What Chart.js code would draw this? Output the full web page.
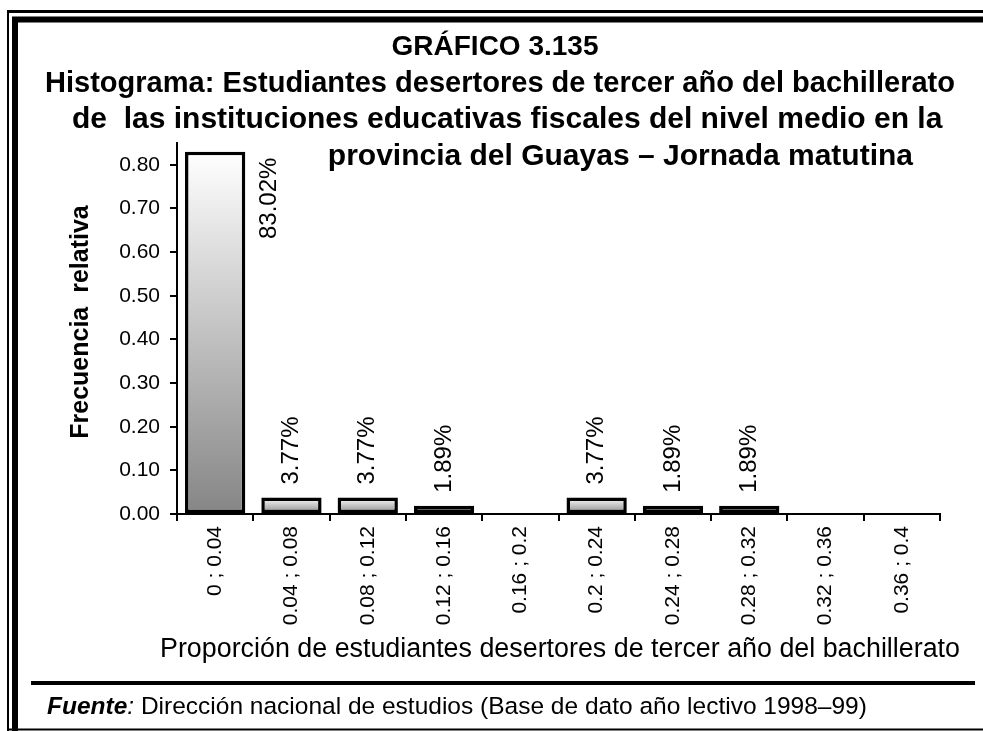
<!DOCTYPE html>
<html>
<head>
<meta charset="utf-8">
<script src="https://cdn.jsdelivr.net/npm/chart.js@4.4.1/dist/chart.umd.min.js"></script>
<style>
  html, body { margin: 0; padding: 0; background: #fff; }
  #wrap { width: 983px; height: 731px; }
</style>
</head>
<body>
<div id="wrap"><canvas id="histo" width="983" height="731"></canvas></div>
<script>
const categories = ['0 ; 0.04', '0.04 ; 0.08', '0.08 ; 0.12', '0.12 ; 0.16', '0.16 ; 0.2',
                    '0.2 ; 0.24', '0.24 ; 0.28', '0.28 ; 0.32', '0.32 ; 0.36', '0.36 ; 0.4'];
const frecuencia = [0.8302, 0.0377, 0.0377, 0.0189, 0, 0.0377, 0.0189, 0.0189, 0, 0];
const etiquetas = ['83.02%', '3.77%', '3.77%', '1.89%', '', '3.77%', '1.89%', '1.89%', '', ''];

const titulo = 'GRÁFICO 3.135';
const subtitulo = [
  'Histograma: Estudiantes desertores de tercer año del bachillerato',
  'de  las instituciones educativas fiscales del nivel medio en la',
  'provincia del Guayas – Jornada matutina'
];
const tituloY = 'Frecuencia  relativa';
const tituloX = 'Proporción de estudiantes desertores de tercer año del bachillerato';
const fuente = 'Dirección nacional de estudios (Base de dato año lectivo 1998–99)';

const FONT = '"Liberation Sans", Arial, sans-serif';

// frame, titles and footer
const decoPlugin = {
  id: 'deco',
  beforeDraw(chart) {
    const c = chart.ctx;
    c.save();
    c.fillStyle = '#fff';
    c.fillRect(0, 0, chart.width, chart.height);
    c.strokeStyle = '#000';
    c.lineWidth = 3;
    c.beginPath(); c.moveTo(7, 11.5); c.lineTo(983, 11.5); c.stroke();
    c.lineWidth = 2;
    c.beginPath(); c.moveTo(8, 10); c.lineTo(8, 731); c.stroke();
    c.lineWidth = 6;
    c.beginPath(); c.moveTo(12, 19.5); c.lineTo(983, 19.5); c.stroke();
    c.beginPath(); c.moveTo(15, 17); c.lineTo(15, 731); c.stroke();
    c.lineWidth = 2;
    c.beginPath(); c.moveTo(7, 729.5); c.lineTo(983, 729.5); c.stroke();
    c.lineWidth = 4;
    c.beginPath(); c.moveTo(31, 683); c.lineTo(975, 683); c.stroke();
    c.restore();
  },
  afterDraw(chart) {
    const c = chart.ctx;
    c.save();
    c.fillStyle = '#000';
    c.textBaseline = 'alphabetic';

    c.font = 'bold 28px ' + FONT;
    c.textAlign = 'center';
    c.fillText(titulo, 495, 55);

    c.font = 'bold 30px ' + FONT;
    c.textAlign = 'left';
    c.fillText(subtitulo[0], 45, 92, 910);
    c.fillText(subtitulo[1], 72, 128, 880);
    c.textAlign = 'right';
    c.fillText(subtitulo[2], 913, 165, 600);

    // y axis title
    c.save();
    c.translate(81, 322);
    c.rotate(-Math.PI / 2);
    c.textAlign = 'center';
    c.textBaseline = 'middle';
    c.font = 'bold 25px ' + FONT;
    c.fillText(tituloY, 0, 0);
    c.restore();

    // x axis title
    c.textAlign = 'center';
    c.font = '27px ' + FONT;
    c.fillText(tituloX, 560, 657, 800);

    // source
    c.textAlign = 'left';
    c.font = 'italic bold 24.5px ' + FONT;
    c.fillText('Fuente', 47, 714);
    let x = 47 + c.measureText('Fuente').width;
    c.font = 'italic 24.5px ' + FONT;
    c.fillText(':', x, 714);
    x += c.measureText(': ').width;
    c.font = '24.5px ' + FONT;
    c.fillText(fuente, x, 714);
    c.restore();
  }
};

// rotated percentage labels over the bars
const labelPlugin = {
  id: 'barLabels',
  afterDatasetsDraw(chart) {
    const c = chart.ctx;
    const meta = chart.getDatasetMeta(0);
    c.save();
    c.font = '24px ' + FONT;
    c.fillStyle = '#000';
    c.textBaseline = 'middle';
    meta.data.forEach((bar, i) => {
      const txt = etiquetas[i];
      if (!txt) return;
      const tw = c.measureText(txt).width;
      let x = bar.x, y = bar.y - 13, align = 'left';
      if (y - tw < chart.chartArea.top) {
        x = bar.x + bar.width / 2 + 24;
        y = bar.y + 6;
        align = 'right';
      }
      c.save();
      c.translate(x, y);
      c.rotate(-Math.PI / 2);
      c.textAlign = align;
      c.fillText(txt, 0, 0);
      c.restore();
    });
    c.restore();
  }
};

function barFill(context) {
  const chart = context.chart;
  const y = chart.scales && chart.scales.y;
  if (!chart.chartArea || !y) return '#bbbbbb';
  const top = y.getPixelForValue(context.raw);
  const base = y.getPixelForValue(0);
  const g = chart.ctx.createLinearGradient(0, top, 0, base + 0.01);
  g.addColorStop(0, '#ffffff');
  g.addColorStop(1, '#858585');
  return g;
}

const ctx = document.getElementById('histo').getContext('2d');

new Chart(ctx, {
  type: 'bar',
  data: {
    labels: categories,
    datasets: [{
      data: frecuencia,
      backgroundColor: barFill,
      borderColor: '#000',
      borderWidth: 3.5,
      borderSkipped: false,
      categoryPercentage: 1,
      barPercentage: 0.79
    }]
  },
  options: {
    responsive: false,
    animation: false,
    layout: { padding: { left: 0, top: 143, right: 43, bottom: 0 } },
    plugins: {
      legend: { display: false },
      tooltip: { enabled: false }
    },
    scales: {
      x: {
        afterFit(scale) { scale.height = 731 - 514; },
        grid: { drawOnChartArea: false, drawTicks: true, tickLength: 7, color: '#000', lineWidth: 2, offset: true },
        border: { display: true, color: '#000', width: 2 },
        ticks: {
          color: '#000',
          font: { family: FONT, size: 21 },
          minRotation: 90,
          maxRotation: 90,
          padding: 5,
          autoSkip: false
        }
      },
      y: {
        min: 0,
        max: 0.85,
        afterFit(scale) { scale.width = 177; },
        grid: { drawOnChartArea: false, drawTicks: true, tickLength: 7, color: '#000', lineWidth: 2 },
        border: { display: true, color: '#000', width: 2 },
        ticks: {
          stepSize: 0.1,
          includeBounds: false,
          color: '#000',
          padding: 10,
          font: { family: FONT, size: 21 },
          callback: v => v.toFixed(2)
        }
      }
    }
  },
  plugins: [decoPlugin, labelPlugin]
});
</script>
</body>
</html>
